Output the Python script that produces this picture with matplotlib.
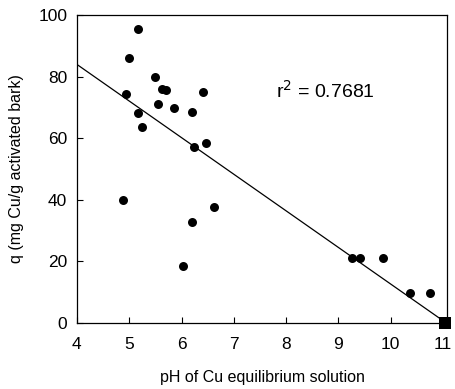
import matplotlib
matplotlib.use("Agg")
import matplotlib.pyplot as plt

plt.rcParams['font.family'] = ['Liberation Sans', 'DejaVu Sans']

ph = [4.89, 4.93, 5.0, 5.17, 5.17, 5.25, 5.5, 5.55, 5.63, 5.7, 5.86, 6.2, 6.24,
      6.41, 6.46, 6.03, 6.2, 6.63, 9.25, 9.42, 9.85, 10.36, 10.75, 11.04]
q = [40.0, 74.4, 86.0, 95.5, 68.2, 63.6, 80.0, 71.2, 76.0, 75.6, 69.8, 68.5, 57.1,
     75.0, 58.5, 18.5, 32.8, 37.7, 21.1, 21.1, 21.1, 9.7, 9.7, 0.0]
fit_slope = -11.9
fit_intercept = 131.6
fit_x = [4.0, 11.06]
r2_text = "r$^2$ = 0.7681"
xticks = [4, 5, 6, 7, 8, 9, 10, 11]
yticks = [0, 20, 40, 60, 80, 100]

fig = plt.figure(figsize=(4.55, 3.89), dpi=100)
ax = fig.add_axes([0.169, 0.170, 0.814, 0.791])
ax.scatter(ph[:-1], q[:-1], s=42, color='black', zorder=3, linewidths=0)
ax.scatter(ph[-1:], q[-1:], s=70, marker='s', color='black', zorder=3,
           linewidths=0, clip_on=False)
ax.plot(fit_x, [fit_slope * x + fit_intercept for x in fit_x], color='black', lw=0.9)
ax.text(7.8, 75.3, r2_text, fontsize=14, va='center', ha='left')

ax.set_xlim(4, 11.08)
ax.set_ylim(0, 100)
ax.set_xticks(xticks)
ax.set_yticks(yticks)
ax.tick_params(direction='in', length=4, width=0.8, labelsize=12.5)
ax.tick_params(axis='x', pad=10)
ax.tick_params(axis='y', pad=7)
for s in ax.spines.values():
    s.set_linewidth(0.9)
ax.set_xlabel("pH of Cu equilibrium solution", fontsize=11.5, labelpad=13)
ax.set_ylabel("q (mg Cu/g activated bark)", fontsize=11.5, labelpad=10)

fig.savefig("out.png", dpi=100)
